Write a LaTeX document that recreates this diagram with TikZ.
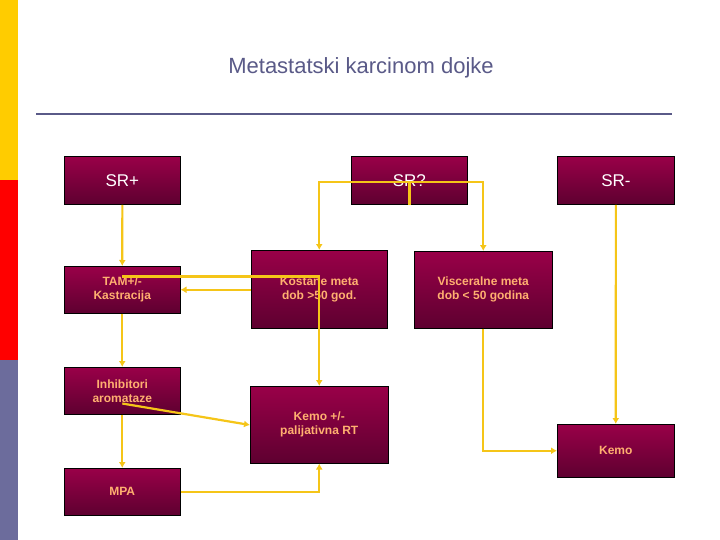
\documentclass[tikz,border=0pt]{standalone}
\usepackage{fontspec}
\setmainfont{Liberation Sans}
\usetikzlibrary{positioning,arrows.meta}
\definecolor{boxtop}{HTML}{990048}
\definecolor{boxbot}{HTML}{5E0030}
\definecolor{peach}{HTML}{FFB070}
\definecolor{arrowy}{HTML}{F5C518}
\definecolor{titlec}{HTML}{5A5A88}
\definecolor{bary}{HTML}{FFCC00}
\definecolor{barr}{HTML}{FF0000}
\definecolor{barb}{HTML}{6C6C9C}
\tikzset{
  box/.style={top color=boxtop, bottom color=boxbot, draw=black, line width=0.5pt,
    anchor=north west, inner sep=0pt, align=center, font=\bfseries\fontsize{12}{14}\selectfont, text=peach},
  srbox/.style={box, draw=black, line width=0.8pt, text=white, font=\fontsize{17}{20}\selectfont},
  link/.style={arrowy, line width=2.2pt, -{Latex[length=6pt,width=7pt]}}
}
\begin{document}
\begin{tikzpicture}[x=1pt,y=-1pt]
    \useasboundingbox (0,0) rectangle (720,540);
    \fill[white] (0,0) rectangle (720,540);
    % side bar
    \fill[bary] (0,0) rectangle (18,180);
    \fill[barr] (0,180) rectangle (18,360);
    \fill[barb] (0,360) rectangle (18,540);
    \node[text=titlec, font=\fontsize{22}{26}\selectfont] (title) at (361,68) {Metastatski karcinom dojke};
    \draw[titlec, line width=2.5pt] (36,114) -- (672,114);

    % boxes
    \node[srbox, minimum width=116pt, minimum height=48pt] (srp) at (64,156) {SR+};
    \node[srbox, minimum width=116pt, minimum height=48pt] (srq) at (351,156) {SR?};
    \node[srbox, minimum width=117pt, minimum height=48pt] (srm) at (557,156) {SR-};
    \node[box, minimum width=116pt, minimum height=47pt] (tam) at (64,266) {TAM+/-\\Kastracija};
    \node[box, minimum width=136pt, minimum height=78pt] (kost) at (251,250) {Koštane meta\\dob >50 god.};
    \node[box, minimum width=138pt, minimum height=77pt] (visc) at (414,251) {Visceralne meta\\dob < 50 godina};
    \node[box, minimum width=116pt, minimum height=47pt] (inhib) at (64,367) {Inhibitori\\aromataze};
    \node[box, minimum width=138pt, minimum height=77pt] (kemort) at (250,386) {Kemo +/-\\palijativna RT};
    \node[box, minimum width=116pt, minimum height=47pt] (mpa) at (64,468) {MPA};
    \node[box, minimum width=117pt, minimum height=53pt] (kemo) at (557,424) {Kemo};

    % connectors
    \coordinate (split) at ([yshift=23pt]srq.south);
    \coordinate (lvl) at (0,425);
    \draw[arrowy, line width=2.2pt] (srq.south) -- (split);
    \draw[link] (split) -| (kost.north);
    \draw[link] (split) -| (visc.north);
    \draw[link] (srp) -- (tam);
    \draw[link] (kost.west |- tam.east) -- (tam.east);
    \draw[link] (tam) -- (inhib);
    \draw[link] ([yshift=37pt]tam.south) -| (kemort.north);
    \draw[link] (inhib) -- (mpa);
    \draw[link] ([yshift=11pt]inhib.south) -- (kemort.west |- lvl);
    \draw[link] (mpa.east) -| (kemort.south);
    \draw[link] (visc.south) |- (kemo.west);
    \draw[link] (srm) -- (kemo);
\end{tikzpicture}
\end{document}
